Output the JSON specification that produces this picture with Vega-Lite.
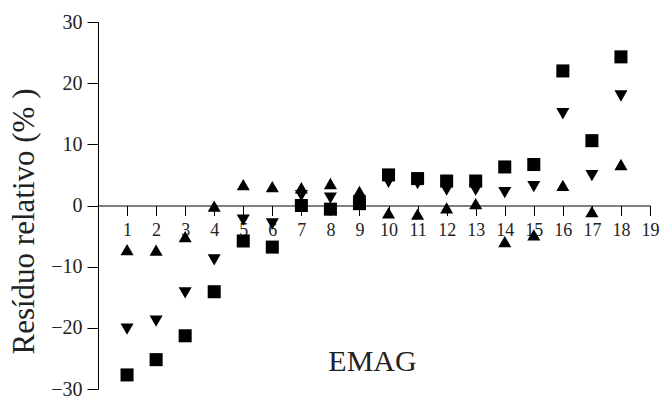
{
  "$schema": "https://vega.github.io/schema/vega-lite/v6.json",
  "width": 552,
  "height": 367,
  "autosize": "none",
  "padding": {"left": 98, "top": 22, "right": 10, "bottom": 8},
  "background": "white",
  "config": {"view": {"stroke": null}, "font": "Liberation Serif"},
  "datasets": {
    "pts": [
      {"n": 1, "serie": "C", "v": -7.2}, {"n": 2, "serie": "C", "v": -7.3}, {"n": 3, "serie": "C", "v": -5.1},
      {"n": 4, "serie": "C", "v": -0.1}, {"n": 5, "serie": "C", "v": 3.4}, {"n": 6, "serie": "C", "v": 3.1},
      {"n": 7, "serie": "C", "v": 2.9}, {"n": 8, "serie": "C", "v": 3.6}, {"n": 9, "serie": "C", "v": 2.3},
      {"n": 10, "serie": "C", "v": -1.2}, {"n": 11, "serie": "C", "v": -1.4}, {"n": 12, "serie": "C", "v": -0.4},
      {"n": 13, "serie": "C", "v": 0.3}, {"n": 14, "serie": "C", "v": -5.9}, {"n": 15, "serie": "C", "v": -4.8},
      {"n": 16, "serie": "C", "v": 3.3}, {"n": 17, "serie": "C", "v": -1.0}, {"n": 18, "serie": "C", "v": 6.7},
      {"n": 1, "serie": "B", "v": -20.2}, {"n": 2, "serie": "B", "v": -18.9}, {"n": 3, "serie": "B", "v": -14.3},
      {"n": 4, "serie": "B", "v": -8.9}, {"n": 5, "serie": "B", "v": -2.4}, {"n": 6, "serie": "B", "v": -3.0},
      {"n": 7, "serie": "B", "v": 1.6}, {"n": 8, "serie": "B", "v": 1.2}, {"n": 9, "serie": "B", "v": 0.8},
      {"n": 10, "serie": "B", "v": 3.8}, {"n": 11, "serie": "B", "v": 3.6}, {"n": 12, "serie": "B", "v": 2.5},
      {"n": 13, "serie": "B", "v": 2.5}, {"n": 14, "serie": "B", "v": 2.1}, {"n": 15, "serie": "B", "v": 3.1},
      {"n": 16, "serie": "B", "v": 15.0}, {"n": 17, "serie": "B", "v": 4.9}, {"n": 18, "serie": "B", "v": 17.9},
      {"n": 1, "serie": "A", "v": -27.7}, {"n": 2, "serie": "A", "v": -25.2}, {"n": 3, "serie": "A", "v": -21.3},
      {"n": 4, "serie": "A", "v": -14.1}, {"n": 5, "serie": "A", "v": -5.8}, {"n": 6, "serie": "A", "v": -6.8},
      {"n": 7, "serie": "A", "v": 0.0}, {"n": 8, "serie": "A", "v": -0.6}, {"n": 9, "serie": "A", "v": 0.3},
      {"n": 10, "serie": "A", "v": 5.0}, {"n": 11, "serie": "A", "v": 4.4}, {"n": 12, "serie": "A", "v": 4.0},
      {"n": 13, "serie": "A", "v": 4.0}, {"n": 14, "serie": "A", "v": 6.3}, {"n": 15, "serie": "A", "v": 6.7},
      {"n": 16, "serie": "A", "v": 22.0}, {"n": 17, "serie": "A", "v": 10.6}, {"n": 18, "serie": "A", "v": 24.3}
    ]
  },
  "data": {"name": "pts"},
  "mark": {"type": "point", "filled": true, "color": "black", "opacity": 1, "size": 170},
  "encoding": {
    "x": {
      "field": "n", "type": "quantitative",
      "scale": {"domain": [0, 19], "nice": false, "zero": false},
      "axis": {
        "values": [1,2,3,4,5,6,7,8,9,10,11,12,13,14,15,16,17,18,19],
        "offset": -183.5, "grid": false,
        "domainColor": "black", "domainWidth": 1, "tickColor": "black", "tickSize": 10,
        "labelFont": "Liberation Serif", "labelFontSize": 18, "labelColor": "#222", "labelPadding": 6,
        "labelFlush": false, "labelOverlap": false,
        "title": "EMAG", "titleFont": "Liberation Serif", "titleFontSize": 30, "titleFontWeight": "normal",
        "titleColor": "#222", "titleX": 274, "titleY": 156, "titleAnchor": "middle", "titleBaseline": "middle"
      }
    },
    "y": {
      "field": "v", "type": "quantitative",
      "scale": {"domain": [-30, 30], "nice": false},
      "axis": {
        "values": [-30, -20, -10, 0, 10, 20, 30], "grid": false,
        "domainColor": "black", "tickColor": "black", "tickSize": 11,
        "labelFont": "Liberation Serif", "labelFontSize": 20, "labelColor": "#222", "labelPadding": 5,
        "labelFlush": false,
        "title": "Resíduo relativo (% )", "titleFont": "Liberation Serif", "titleFontSize": 31,
        "titleFontWeight": "normal", "titleColor": "#222", "titleAngle": -90,
        "titleX": -74, "titleY": 199, "titleAlign": "center", "titleBaseline": "middle"
      }
    },
    "shape": {
      "field": "serie", "type": "nominal",
      "scale": {"domain": ["A", "B", "C"], "range": ["square", "triangle-down", "triangle-up"]},
      "legend": null
    }
  }
}
